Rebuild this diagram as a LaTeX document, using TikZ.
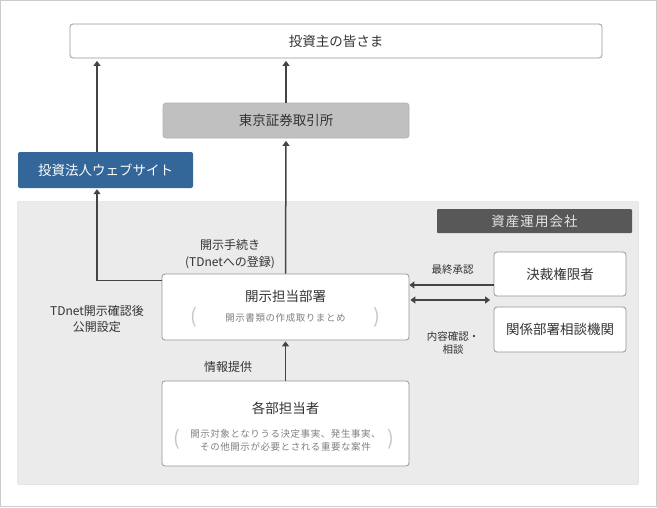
\documentclass[tikz,border=0pt]{standalone}
\usepackage{fontspec}
\setmainfont{Noto Sans CJK JP}
\usetikzlibrary{positioning,arrows.meta}
\definecolor{linegray}{RGB}{68,68,68}
\definecolor{boxgray}{RGB}{150,150,150}
\definecolor{framegray}{RGB}{204,204,204}
\definecolor{webblue}{RGB}{51,102,153}
\definecolor{areagray}{RGB}{235,235,235}
\definecolor{tsegray}{RGB}{192,192,192}
\definecolor{labelgray}{RGB}{88,88,88}
\definecolor{textgray}{RGB}{51,51,51}
\tikzset{box/.style={draw=boxgray, fill=white, rounded corners=3pt, line width=0.8pt, text=textgray, inner sep=0pt, font=\fontsize{13.5}{16}\selectfont}}
\tikzset{webbox/.style={fill=webblue, rounded corners=2pt, text=white, inner sep=0pt, minimum width=175, minimum height=36, font=\fontsize{13.5}{16}\selectfont}}
\tikzset{companylabel/.style={fill=labelgray, rounded corners=1pt, text=white!90!black, inner sep=0pt, minimum width=195, minimum height=24, font=\fontsize{13.5}{16}\selectfont\addfontfeature{LetterSpace=8}}}
\tikzset{boxtitle/.style={text=textgray, inner sep=0pt, font=\fontsize{13.5}{16}\selectfont}}
\tikzset{boxnote/.style={text=gray, inner sep=0pt, align=center, font=\fontsize{9.5}{13}\selectfont\addfontfeature{LetterSpace=6}}}
\tikzset{paren/.style={text=gray!45, inner sep=0pt, font=\fontsize{20}{22}\selectfont}}
\tikzset{lbl/.style={text=textgray, inner sep=0pt, align=center, font=\fontsize{12}{#1}\selectfont}, lbl/.default={17}}
\tikzset{smalllbl/.style={text=textgray, inner sep=0pt, align=center, font=\fontsize{10.5}{12.6}\selectfont}}
\tikzset{arr/.style={draw=linegray, line width=1.5pt, -{Triangle[length=5pt,width=7pt]}, shorten >=2.5pt}}
\tikzset{dblarr/.style={draw=linegray, line width=1.5pt, {Triangle[length=5pt,width=7pt]}-{Triangle[length=5pt,width=7pt]}, shorten >=3.5pt, shorten <=1pt}}

\begin{document}
\begin{tikzpicture}[x=1pt,y=-1pt]
	\useasboundingbox (0,0) rectangle (657,507);
	\draw[framegray, line width=1pt] (0.5,0.5) rectangle (656.5,506.5);
	% asset management company
	\draw[framegray, fill=areagray, rounded corners=2pt] (17.5,201.5) rectangle (638.5,484.5);
	\node[companylabel] (company) at (534.5,221) {資産運用会社};

	\node[box, minimum width=532, minimum height=34] (investors) at (336,41) {投資主の皆さま};
	\node[box, fill=tsegray, draw=white!70!black, minimum width=246, minimum height=35] (tse) at (286,120.5) {東京証券取引所};
	\node[webbox] (website) at (105.5,170) {投資法人ウェブサイト};

	\node[box, minimum width=247, minimum height=66] (dept) at (285.5,307) {};
	\node[boxtitle] (depttitle) at (285.5,296) {開示担当部署};
	\node[boxnote] (deptnote) at (285.5,317.5) {開示書類の作成取りまとめ};
	\node[paren] (deptl) at (194,317) {(};
	\node[paren] (deptr) at (377,317) {)};

	\node[box, minimum width=132, minimum height=44] (approver) at (560,274) {決裁権限者};
	\node[box, minimum width=132, minimum height=45] (related) at (560,329.5) {関係部署相談機関};

	\node[box, minimum width=247, minimum height=85] (staff) at (285.5,423.5) {};
	\node[boxtitle] (stafftitle) at (285.5,408) {各部担当者};
	\node[boxnote] (staffnote) at (285.5,440) {開示対象となりうる決定事実、発生事実、\\その他開示が必要とされる重要な案件};
	\node[paren] (staffl) at (177,439) {(};
	\node[paren] (staffr) at (391,439) {)};

	% connectors
	\coordinate (webx) at (97,0);
	\draw[arr] (website.north -| webx) -- (investors.south -| webx);
	\draw[arr] (tse.north) -- (investors.south -| tse.north);
	\draw[arr] (dept.north) -- (tse.south);
	\draw[arr, shorten >=1pt] ([yshift=-7pt]dept.north west) -| (website.south -| webx);
	\draw[arr, shorten >=0pt] ([yshift=-11pt]approver.west) -- ([yshift=-11pt]approver.west -| dept.east);
	\draw[dblarr] ([yshift=7pt]dept.east) -- ([yshift=7pt]dept.east -| related.west);
	\draw[arr, shorten >=1pt] (staff.north) -- (dept.south);

	\node[lbl] (procedure) at (230,254) {開示手続き\\(TDnetへの登録)};
	\node[lbl=16] (publish) at (97,319) {TDnet開示確認後\\公開設定};
	\node[lbl] (info) at (228,367) {情報提供};
	\node[smalllbl] (approval) at (452.5,270) {最終承認};
	\node[smalllbl] (consult) at (453,343) {内容確認・\\相談};
\end{tikzpicture}
\end{document}
